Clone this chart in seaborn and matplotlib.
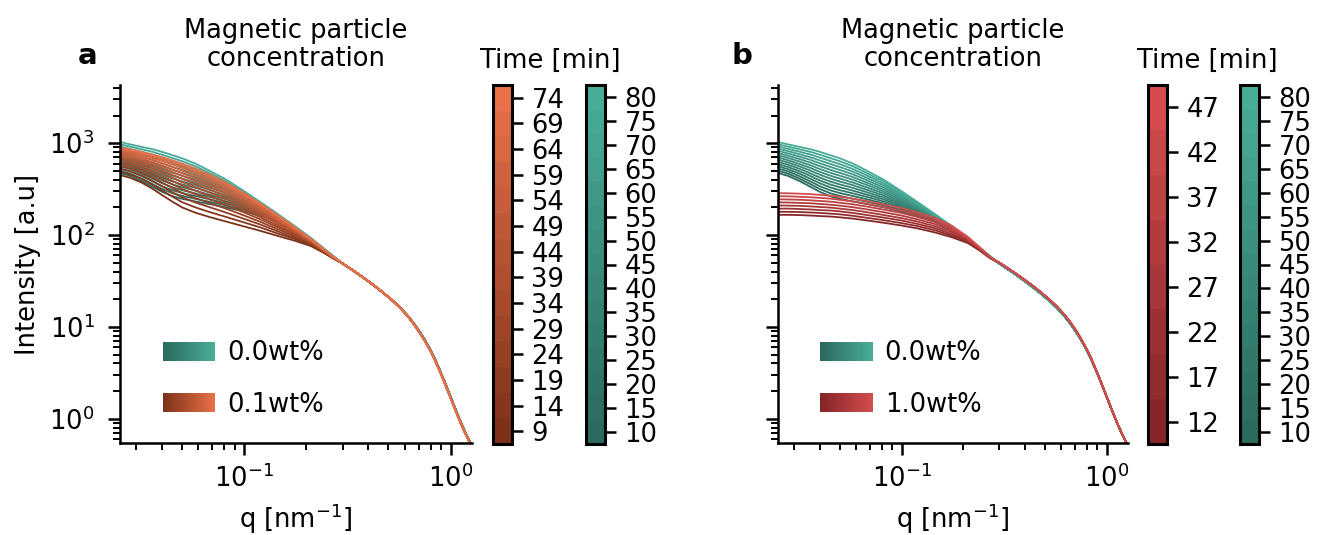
import matplotlib
matplotlib.use("Agg")
import pandas as pd
import matplotlib.pyplot as plt
import seaborn as sns
from matplotlib.colors import LinearSegmentedColormap, ListedColormap, BoundaryNorm
from matplotlib.cm import ScalarMappable
from matplotlib.legend_handler import HandlerBase
from matplotlib.patches import Rectangle, Patch

# ---------------- data ----------------
q_low = [0.025, 0.028, 0.032, 0.036, 0.04, 0.045, 0.05, 0.058, 0.068, 0.082,
         0.1, 0.12, 0.145, 0.175, 0.21, 0.24, 0.27]
q_tail = [0.30, 0.33, 0.36, 0.39, 0.43, 0.47, 0.52, 0.57, 0.62, 0.66, 0.71, 0.75,
          0.80, 0.84, 0.89, 0.93, 0.97, 1.01, 1.05, 1.09, 1.13, 1.18, 1.22, 1.27]

# 0.0 wt% (teal), times in minutes
times_00 = [10, 15, 20, 25, 30, 35, 40, 45, 50, 55, 60, 65, 70, 75, 80]
I_low_00 = [
    [475, 440, 385, 335, 295, 265, 248, 232, 217, 200, 180, 162, 140, 114, 88, 71, 57],
    [502, 466, 409, 358, 317, 285, 267, 248, 230, 210, 187, 166, 142, 115, 88.4, 71.1, 57.1],
    [530, 493, 435, 383, 340, 307, 287, 266, 245, 221, 194, 170, 144, 116, 88.7, 71.3, 57.3],
    [561, 521, 463, 410, 366, 330, 308, 284, 260, 232, 201, 174, 146, 117, 89.1, 71.4, 57.4],
    [592, 551, 492, 439, 393, 355, 332, 304, 275, 244, 208, 179, 148, 117, 89.4, 71.6, 57.6],
    [626, 583, 524, 469, 422, 382, 356, 326, 292, 256, 216, 183, 150, 118, 89.8, 71.7, 57.7],
    [662, 617, 557, 502, 454, 412, 383, 349, 310, 269, 224, 188, 152, 119, 90.1, 71.9, 57.9],
    [699, 653, 592, 537, 487, 443, 412, 373, 329, 283, 232, 192, 154, 120, 90.5, 72, 58],
    [739, 691, 630, 574, 523, 477, 443, 400, 350, 297, 241, 197, 156, 121, 90.8, 72.1, 58.1],
    [781, 731, 670, 614, 562, 513, 476, 428, 371, 312, 250, 202, 159, 122, 91.2, 72.3, 58.3],
    [825, 774, 712, 657, 604, 552, 512, 458, 394, 328, 259, 207, 161, 123, 91.5, 72.4, 58.4],
    [872, 819, 757, 703, 649, 594, 551, 490, 418, 345, 269, 212, 163, 124, 91.9, 72.6, 58.6],
    [922, 866, 805, 752, 697, 639, 592, 524, 444, 362, 279, 217, 165, 124, 92.3, 72.7, 58.7],
    [974, 917, 856, 804, 749, 688, 637, 561, 471, 381, 289, 222, 168, 125, 92.6, 72.9, 58.9],
    [1030, 970, 910, 860, 805, 740, 685, 600, 500, 400, 300, 228, 170, 126, 93, 73, 59],
]
tail_00 = [48.9, 42.4, 37.1, 32.6, 27.7, 23.7, 19.6, 16.2, 13.2, 11.1, 8.78, 7.21,
           5.57, 4.45, 3.31, 2.61, 2.06, 1.64, 1.31, 1.065, 0.876, 0.706, 0.606, 0.508]

# 0.1 wt% (orange)
times_01 = [9, 14, 19, 24, 29, 34, 39, 44, 49, 54, 59, 64, 69, 74]
I_low_01 = [
    [450, 420, 370, 318, 272, 230, 200, 175, 157, 140, 124, 111, 98, 87, 76, 65, 55.5],
    [489, 457, 406, 352, 305, 261, 228, 200, 178, 157, 137, 121, 104, 91, 77.7, 65.8, 55.8],
    [528, 495, 442, 387, 339, 292, 258, 226, 201, 175, 150, 130, 110, 94, 79.2, 66.5, 56],
    [566, 531, 477, 422, 372, 324, 287, 252, 223, 193, 163, 139, 116, 98, 80.7, 67.2, 56.3],
    [602, 566, 511, 456, 406, 356, 317, 279, 245, 211, 176, 148, 122, 101, 82, 67.8, 56.5],
    [637, 599, 544, 488, 438, 387, 346, 305, 267, 228, 188, 156, 127, 103, 83.2, 68.4, 56.7],
    [673, 634, 579, 523, 473, 420, 378, 333, 291, 246, 201, 165, 133, 106, 84.4, 69, 56.9],
    [706, 667, 611, 556, 505, 452, 409, 360, 314, 263, 213, 173, 138, 109, 85.4, 69.5, 57.1],
    [741, 701, 645, 590, 540, 486, 441, 389, 338, 282, 226, 182, 143, 112, 86.5, 70, 57.3],
    [773, 732, 675, 621, 572, 517, 471, 415, 360, 299, 237, 189, 147, 114, 87.5, 70.4, 57.4],
    [806, 763, 707, 654, 605, 550, 503, 444, 384, 317, 249, 197, 152, 116, 88.4, 70.8, 57.6],
    [840, 797, 741, 688, 641, 586, 538, 475, 409, 336, 262, 205, 157, 119, 89.4, 71.3, 57.7],
    [869, 825, 770, 719, 672, 617, 568, 501, 431, 352, 273, 213, 161, 121, 90.2, 71.6, 57.9],
    [900, 855, 800, 750, 705, 650, 600, 530, 455, 370, 285, 220, 165, 123, 91, 72, 58],
]
tail_01 = [49, 42.5, 37.2, 32.7, 27.8, 23.7, 19.6, 16.1, 13.1, 10.9, 8.6, 7.05,
           5.45, 4.35, 3.24, 2.55, 2.01, 1.6, 1.28, 1.04, 0.856, 0.69, 0.593, 0.5]

# 1.0 wt% (red)
times_10 = [12, 17, 22, 27, 32, 37, 42, 47]
I_low_10 = [
    [166, 166, 165, 163, 161, 159, 156, 151, 144, 136, 127, 118, 107, 95, 82, 68, 56],
    [179, 179, 178, 176, 174, 171, 168, 162, 154, 145, 135, 125, 113, 99, 83.9, 68.8, 56.3],
    [194, 194, 192, 190, 187, 185, 181, 174, 165, 155, 144, 132, 119, 103, 85.8, 69.7, 56.6],
    [210, 209, 208, 205, 202, 199, 194, 187, 177, 165, 153, 140, 125, 108, 87.7, 70.5, 56.8],
    [227, 226, 224, 222, 218, 214, 209, 201, 190, 177, 163, 148, 132, 112, 89.7, 71.4, 57.1],
    [245, 244, 242, 239, 235, 231, 225, 216, 204, 189, 174, 157, 139, 117, 91.8, 72.3, 57.4],
    [265, 264, 261, 258, 254, 249, 242, 232, 218, 201, 185, 166, 147, 122, 93.9, 73.1, 57.7],
    [286, 285, 282, 279, 274, 268, 261, 249, 234, 215, 197, 176, 155, 127, 96, 74, 58],
]
tail_10 = [50, 43.5, 38.2, 33.7, 28.7, 24.6, 20.3, 16.8, 13.7, 11.5, 9.05, 7.4,
           5.7, 4.53, 3.35, 2.63, 2.07, 1.64, 1.31, 1.065, 0.876, 0.706, 0.606, 0.508]

labels_a = ["0.0wt%", "0.1wt%"]
labels_b = ["0.0wt%", "1.0wt%"]

# ---------------- styling ----------------
FS = 18.5
sns.set_style("ticks")
plt.rcParams.update({
    "font.family": ["DejaVu Sans"],
    "font.size": FS,
    "axes.linewidth": 1.8,
    "mathtext.default": "regular",
    "text.color": "black",
    "axes.labelcolor": "black",
    "axes.edgecolor": "black",
    "xtick.color": "black",
    "ytick.color": "black",
})

cmap_teal = LinearSegmentedColormap.from_list("teal", ["#2B6A5E", "#48AC99"])
cmap_orange = LinearSegmentedColormap.from_list("orange", ["#7D3118", "#E8714A"])
cmap_red = LinearSegmentedColormap.from_list("red", ["#862628", "#D34D4D"])


def make_df(times, I_low, tail):
    rows = []
    for t, curve in zip(times, I_low):
        for q, I in zip(q_low + q_tail, list(curve) + list(tail)):
            rows.append((t, q, I))
    return pd.DataFrame(rows, columns=["time", "q", "I"])


def colors_for(times, cmap):
    n = len(times)
    return [cmap(k / (n - 1)) for k in range(n)]


class GradientHandler(HandlerBase):
    def __init__(self, cmap, n=50):
        super().__init__()
        self.cmap = cmap
        self.n = n

    def create_artists(self, legend, orig_handle, xdescent, ydescent,
                       width, height, fontsize, trans):
        arts = []
        w = width / self.n
        for k in range(self.n):
            r = Rectangle((-xdescent + k * w, -ydescent), w * 1.1, height,
                          facecolor=self.cmap(k / (self.n - 1)),
                          edgecolor="none", transform=trans)
            arts.append(r)
        return arts


W, H = 1317, 535
fig = plt.figure(figsize=(W / 100, H / 100), dpi=100)


def fx(px):
    return px / W


def fy(py):
    return 1 - py / H


def panel(left, right, series, labels, cb_specs, letter, letter_x, time_x, ylabel):
    ax = fig.add_axes([fx(left), fy(443), fx(right - left), (443 - 85) / H])
    ax.set_xscale("log")
    ax.set_yscale("log")
    for times, I_low, tail, cmap in series:
        df = make_df(times, I_low, tail)
        cols = colors_for(times, cmap)
        pal = {t: c for t, c in zip(times, cols)}
        sns.lineplot(data=df, x="q", y="I", hue="time", palette=pal,
                     estimator=None, sort=False, legend=False, ax=ax,
                     linewidth=1.3)
    ax.set_xlim(0.025, 1.27)
    ax.set_ylim(0.545, 4300)
    ax.set_xlabel("q [nm$^{-1}$]", fontsize=FS, labelpad=6)
    if ylabel:
        ax.set_ylabel("Intensity [a.u]", fontsize=FS, labelpad=6)
    else:
        ax.set_ylabel("")
        ax.tick_params(axis="y", which="both", labelleft=False)
    ax.tick_params(which="major", length=8.5, width=1.8, labelsize=FS)
    ax.tick_params(axis="x", which="major", pad=7)
    ax.tick_params(axis="y", which="major", pad=10)
    ax.tick_params(which="minor", length=5, width=1.4)
    sns.despine(ax=ax)

    handles = [Patch(), Patch()]
    hmap = {handles[0]: GradientHandler(series[0][3]),
            handles[1]: GradientHandler(series[1][3])}
    ax.legend(handles, labels, handler_map=hmap, loc="lower left",
              bbox_to_anchor=(0.07, 0.02), frameon=False, fontsize=FS,
              handlelength=2.05, handleheight=0.75, handletextpad=0.45,
              labelspacing=1.0, borderpad=0.2)

    # colorbars
    for cx, times, cmap in cb_specs:
        cax = fig.add_axes([fx(cx), fy(444), fx(19), (444 - 85) / H])
        cols = colors_for(times, cmap)
        step = times[1] - times[0]
        bounds = [t - step / 2 for t in times] + [times[-1] + step / 2]
        norm = BoundaryNorm(bounds, len(cols))
        sm = ScalarMappable(norm=norm, cmap=ListedColormap(cols))
        cb = fig.colorbar(sm, cax=cax, ticks=times)
        cb.outline.set_linewidth(2.2)
        cb.outline.set_edgecolor("black")
        cax.tick_params(length=8, width=1.8, labelsize=FS, pad=6)
        cax.minorticks_off()

    mid = (left + right) / 2
    fig.text(fx(letter_x), fy(56), letter, weight="bold", ha="center",
             va="center", fontsize=FS + 2.5)
    fig.text(fx(mid), fy(45), "Magnetic particle\nconcentration",
             ha="center", va="center", fontsize=FS, linespacing=1.05)
    fig.text(fx(time_x), fy(61), "Time [min]", ha="center", va="center",
             fontsize=FS)
    return ax


ax_a = panel(120, 472,
             [(times_00, I_low_00, tail_00, cmap_teal),
              (times_01, I_low_01, tail_01, cmap_orange)],
             labels_a,
             [(493, times_01, cmap_orange), (586, times_00, cmap_teal)],
             "a", 88, 550, True)
ax_b = panel(778, 1128,
             [(times_00, I_low_00, tail_00, cmap_teal),
              (times_10, I_low_10, tail_10, cmap_red)],
             labels_b,
             [(1148, times_10, cmap_red), (1240, times_00, cmap_teal)],
             "b", 742, 1207, False)

fig.savefig("out.png", dpi=100)
